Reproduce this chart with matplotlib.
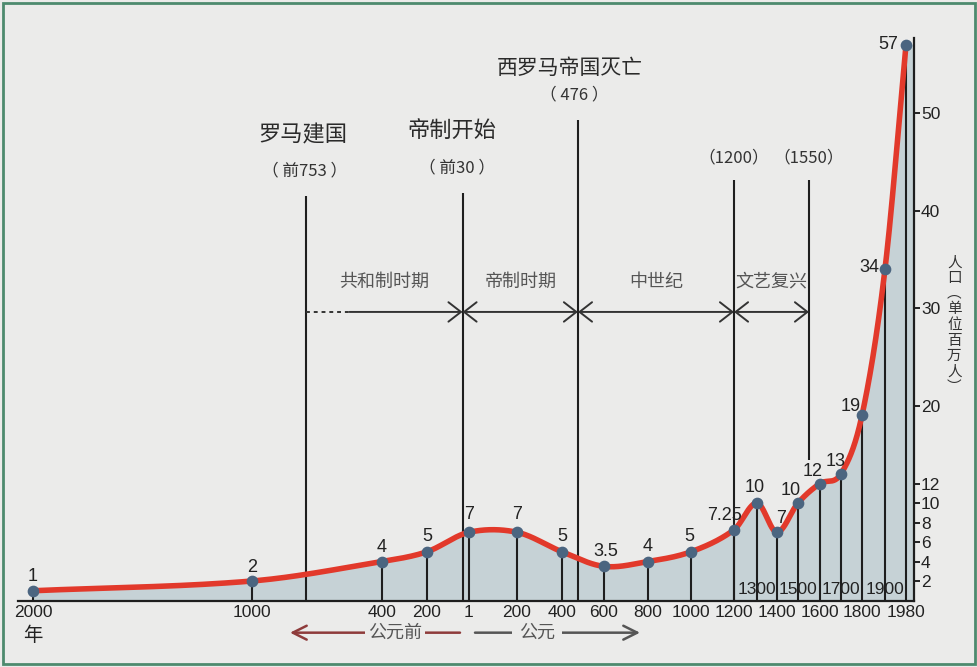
import numpy as np
import matplotlib.pyplot as plt
from matplotlib.patches import Rectangle

# population of Italy (millions)
years = [-2000, -1000, -400, -200, 1, 200, 400, 600, 800, 1000, 1200,
         1300, 1400, 1500, 1600, 1700, 1800, 1900, 1980]
pop = [1, 2, 4, 5, 7, 7, 5, 3.5, 4, 5, 7.25, 10, 7, 10, 12, 13, 19, 34, 57]
pop_labels = ['1', '2', '4', '5', '7', '7', '5', '3.5', '4', '5', '7.25',
              '10', '7', '10', '12', '13', '19', '34', '57']

# the year axis is not linear: break points of the scale
axis_years = [-2068, -2000, -1000, -400, -200, 1, 200, 400, 600, 800, 1000,
              1200, 1300, 1400, 1500, 1600, 1700, 1800, 1900, 1980, 2010]
axis_pos = [18, 33, 252, 382, 427, 469, 517, 562, 604, 648, 691,
            734, 757, 777, 798, 820, 841, 862, 885, 906, 914]

low_ticks = [-2000, -1000, -400, -200, 1, 200, 400, 600, 800, 1000, 1200,
             1400, 1600, 1800, 1980]
low_labels = ['2000', '1000', '400', '200', '1', '200', '400', '600', '800',
              '1000', '1200', '1400', '1600', '1800', '1980']
high_ticks = [1300, 1500, 1700, 1900]
y_ticks = [2, 4, 6, 8, 10, 12, 20, 30, 40, 50]

event_years = [-753, -30, 476, 1200, 1550]
event_names = ['罗马建国', '帝制开始', '西罗马帝国灭亡', '', '']
event_dates = ['（ 前753 ）', '（ 前30 ）', '（ 476 ）', '（1200）', '（1550）']
event_tops = [41.5, 41.8, 49.3, 43.1, 43.1]
event_bottoms = [0, 0, 0, 0, 14.4]
name_dx = [-2, -8, -6, 0, 0]

periods = [(-753, -30, '共和制时期'), (-30, 476, '帝制时期'),
           (476, 1200, '中世纪'), (1200, 1550, '文艺复兴')]

# label offsets (points) for the value labels
lab_dx = [0, 0, 0, 0, 0, 0, 0, 1, 0, -1, -7, -2, 3, -5, -5.5, -4, -8, -11, -13]
lab_dy = [10, 10, 10, 11, 13, 13, 11, 11, 11, 11, 10, 11, 10, 9, 9, 9, 6, 1, 0]

num = ['Liberation Sans', 'DejaVu Sans']
cjk = ['Noto Sans CJK SC', 'DejaVu Sans']
bg = '#ebebea'


def fwd(x):
    return np.interp(x, axis_years, axis_pos)


def inv(p):
    return np.interp(p, axis_pos, axis_years)


def smooth(xs, ys, n=40):
    # cubic hermite with catmull-rom slopes, in scale space
    xs = np.asarray(xs, float)
    ys = np.asarray(ys, float)
    m = np.zeros_like(ys)
    m[1:-1] = (ys[2:] - ys[:-2]) / (xs[2:] - xs[:-2])
    m[0] = (ys[1] - ys[0]) / (xs[1] - xs[0])
    m[-1] = (ys[-1] - ys[-2]) / (xs[-1] - xs[-2])
    ox, oy = [], []
    for i in range(len(xs) - 1):
        h = xs[i + 1] - xs[i]
        t = np.linspace(0, 1, n, endpoint=False)
        h00 = 2 * t**3 - 3 * t**2 + 1
        h10 = t**3 - 2 * t**2 + t
        h01 = -2 * t**3 + 3 * t**2
        h11 = t**3 - t**2
        ox.append(xs[i] + t * h)
        oy.append(h00 * ys[i] + h10 * h * m[i] + h01 * ys[i + 1] + h11 * h * m[i + 1])
    ox.append([xs[-1]])
    oy.append([ys[-1]])
    return np.concatenate(ox), np.concatenate(oy)


fig = plt.figure(figsize=(9.78, 6.67), dpi=100, facecolor=bg)
ax = fig.add_axes([18 / 978, 66.5 / 667, 896 / 978, 562.5 / 667])
ax.set_facecolor('none')
ax.set_xscale('function', functions=(fwd, inv))
ax.set_xlim(axis_years[0], axis_years[-1])
ax.set_ylim(0, 57.7)

# curve
sx, sy = smooth(fwd(years), pop)
cx = inv(sx)
ax.fill_between(cx, sy, 0, color='#c6d2d6', lw=0, zorder=1)
ax.fill_between([years[-1], axis_years[-1]], [pop[-1], pop[-1]], 0,
                color='#c6d2d6', lw=0, zorder=1)
ax.vlines(years, 0, pop, color='#1e1e1e', lw=1.5, zorder=2)
ax.plot(cx, sy, color='#e2392b', lw=4, solid_capstyle='round', zorder=3)
ax.scatter(years, pop, s=55, color='#4b6580', zorder=4)
for x, y, t, dx, dy in zip(years, pop, pop_labels, lab_dx, lab_dy):
    ax.annotate(t, (x, y), xytext=(dx, dy), textcoords='offset points',
                ha='center', va='center', fontsize=13, color='#222',
                family=num, zorder=5)

# events
ax.vlines(event_years, event_bottoms, event_tops, color='#1e1e1e', lw=1.5, zorder=2)
for x, name, date, top, dx in zip(event_years, event_names, event_dates,
                                  event_tops, name_dx):
    if name:
        fs = 15 if len(name) > 4 else 16
        ax.annotate(name, (x, top + (6.3 if len(name) < 5 else 5.3)),
                    xytext=(dx, 0), textcoords='offset points', ha='center',
                    va='center', fontsize=fs, color='#2a2a2a', family=cjk)
    ax.annotate(date, (x, top + (2.6 if name else 2.3)), xytext=(dx / 2, 0),
                textcoords='offset points', ha='center', va='center',
                fontsize=12, color='#333', family=cjk)

# periods
for i, (a, b, name) in enumerate(periods):
    mid = inv((fwd(a) + fwd(b)) / 2)
    ax.text(mid, 32.7, name, ha='center', va='center', fontsize=13,
            color='#555', family=cjk)
    if i == 0:
        cut = inv(fwd(a) + 44)
        ax.plot([a, cut], [29.6, 29.6], color='#333', lw=1.4, ls=(0, (2, 2)))
        ax.annotate('', xy=(b, 29.6), xytext=(cut, 29.6),
                    arrowprops=dict(arrowstyle='->,head_length=0.45,head_width=0.35',
                                    color='#333', lw=1.4, shrinkA=0, shrinkB=0,
                                    mutation_scale=20))
    else:
        ax.annotate('', xy=(b, 29.6), xytext=(a, 29.6),
                    arrowprops=dict(arrowstyle='<->,head_length=0.45,head_width=0.35',
                                    color='#333', lw=1.4, shrinkA=0, shrinkB=0,
                                    mutation_scale=20))

# axes
for s in ['top', 'left']:
    ax.spines[s].set_visible(False)
ax.spines['bottom'].set_linewidth(1.6)
ax.spines['right'].set_linewidth(1.6)
ax.spines['bottom'].set_color('#1e1e1e')
ax.spines['right'].set_color('#1e1e1e')
ax.set_xticks(low_ticks, low_labels)
ax.tick_params(axis='x', length=0, pad=3, labelsize=12.5, labelcolor='#222')
ax.yaxis.tick_right()
ax.set_yticks(y_ticks)
ax.tick_params(axis='y', direction='out', length=4, width=1.2, pad=1,
               labelsize=12.5, labelcolor='#222')
for lab in ax.get_xticklabels() + ax.get_yticklabels():
    lab.set_family(num)
for x in high_ticks:
    ax.text(x, 1.1, str(x), ha='center', va='center', fontsize=12.5,
            color='#222', family=num, zorder=5)
ax.text(-2000, -3.6, '年', ha='center', va='center', fontsize=14,
        color='#222', family=cjk, clip_on=False)

# y label, written top to bottom
ax.text(1.045, 0.49, '\n'.join('人口︵单位百万人︶'), transform=ax.transAxes,
        ha='center', va='center', fontsize=10.5, color='#333', family=cjk,
        linespacing=1.15, clip_on=False)

# BC / AD arrows under the axis
ax.annotate('', xy=(inv(290), -3.3), xytext=(inv(460), -3.3),
            arrowprops=dict(arrowstyle='->,head_length=0.5,head_width=0.25',
                            color='#8e3b3b', lw=1.8, shrinkA=0, shrinkB=0,
                            mutation_scale=20), annotation_clip=False)
ax.text(inv(395), -3.3, '公元前', ha='center', va='center', fontsize=13,
        color='#555', family=cjk, clip_on=False,
        bbox=dict(facecolor=bg, edgecolor='none', pad=2))
ax.annotate('', xy=(inv(640), -3.3), xytext=(inv(475), -3.3),
            arrowprops=dict(arrowstyle='->,head_length=0.5,head_width=0.25',
                            color='#555', lw=1.8, shrinkA=0, shrinkB=0,
                            mutation_scale=20), annotation_clip=False)
ax.text(inv(537), -3.3, '公元', ha='center', va='center', fontsize=13,
        color='#555', family=cjk, clip_on=False,
        bbox=dict(facecolor=bg, edgecolor='none', pad=5))

fig.patches.append(Rectangle((3 / 978, 3 / 667), 972 / 978, 661 / 667,
                             transform=fig.transFigure, fill=False,
                             edgecolor='#4d8a6e', lw=2))

fig.savefig('out.png', dpi=100, facecolor=bg)
